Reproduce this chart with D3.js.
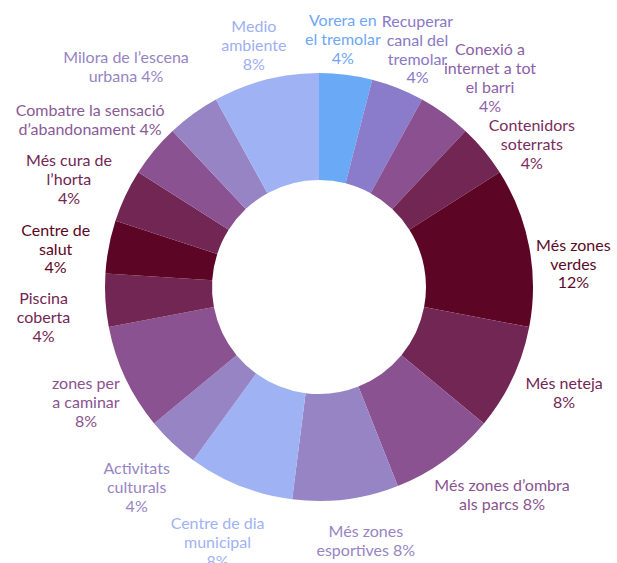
<!DOCTYPE html>
<html>
<head>
<meta charset="utf-8">
<script src="https://cdn.jsdelivr.net/npm/d3@7"></script>
<style>
  body { margin: 0; background: #fff; }
  text { font-family: Lato, "Noto Sans", sans-serif; font-size: 16px; }
</style>
</head>
<body>
<svg id="chart" width="617" height="563"></svg>
<script>
// categories, clockwise from 12 o'clock ({p} = percentage)
const categories = [
    "Vorera en\nel tremolar\n{p}",
    "Recuperar\ncanal del\ntremolar\n{p}",
    "Conexió a\ninternet a tot\nel barri\n{p}",
    "Contenidors\nsoterrats\n{p}",
    "Més zones\nverdes\n{p}",
    "Més neteja\n{p}",
    "Més zones d’ombra\nals parcs {p}",
    "Més zones\nesportives {p}",
    "Centre de dia\nmunicipal\n{p}",
    "Activitats\nculturals\n{p}",
    "zones per\na caminar\n{p}",
    "Piscina\ncoberta\n{p}",
    "Centre de\nsalut\n{p}",
    "Més cura de\nl’horta\n{p}",
    "Combatre la sensació\nd’abandonament {p}",
    "Milora de l’escena\nurbana {p}",
    "Medio\nambiente\n{p}"
];
const values = [4, 4, 4, 4, 12, 8, 8, 8, 8, 4, 8, 4, 4, 4, 4, 4, 8];

const colors = ["#6aa9f6", "#8a7bcb", "#8b5090", "#722653", "#5c0524", "#722653",
    "#8a5290", "#9784c4", "#9fb2f3", "#9784c4", "#8a5290", "#722653",
    "#5c0524", "#722653", "#8a5290", "#9784c4", "#9fb2f3"];
const labelColors = ["#6ea7f7", "#8a78c8", "#8c60a8", "#7a2b5e", "#5c0a2a", "#722653",
    "#8a5290", "#9784c4", "#9fb2f3", "#9784c4", "#8a5290", "#722653",
    "#5c0524", "#722653", "#8a5a98", "#9784c4", "#9db0f2"];

// small shifts so labels sit like the original, away from neighbours
const labelNudge = [[-9, 12], [2, 6], [17, 3], [11, 24], [-3, 26], [8, -6], [29, -4],
    [14, -6], [-5, 12], [-3, 9], [4, 4], [-14, 14], [-6, 11], [-13, 4], [-27, 0],
    [-39, -8], [0, 12]];

const cx = 319, cy = 287, outerR = 214, innerR = 107, labelR = 262, lineH = 19;

const svg = d3.select("#chart");
const g = svg.append("g").attr("transform", "translate(" + cx + "," + cy + ")");

const data = categories.map((c, i) => ({ label: c, value: values[i], i: i }));

const pie = d3.pie().sort(null).value(d => d.value);
const arc = d3.arc().innerRadius(innerR).outerRadius(outerR);
const labelArc = d3.arc().innerRadius(labelR).outerRadius(labelR);

const arcs = pie(data);

g.selectAll("path")
    .data(arcs)
    .enter()
    .append("path")
    .attr("d", arc)
    .attr("fill", d => colors[d.data.i]);

const total = d3.sum(values);

const labels = g.selectAll("text.lbl")
    .data(arcs)
    .enter()
    .append("text")
    .attr("class", "lbl")
    .attr("text-anchor", "middle")
    .attr("fill", d => labelColors[d.data.i])
    .attr("transform", d => {
        let c = labelArc.centroid(d);
        let n = labelNudge[d.data.i];
        return "translate(" + (c[0] + n[0]) + "," + (c[1] + n[1]) + ")";
    });

labels.each(function (d) {
    let pct = Math.round(d.data.value / total * 100) + "%";
    let lines = d.data.label.replace("{p}", pct).split("\n");
    let start = -(lines.length - 1) / 2 * lineH;
    d3.select(this).selectAll("tspan")
        .data(lines)
        .enter()
        .append("tspan")
        .attr("x", 0)
        .attr("y", (l, k) => start + k * lineH)
        .attr("dy", "0.35em")
        .text(l => l);
});
</script>
</body>
</html>
